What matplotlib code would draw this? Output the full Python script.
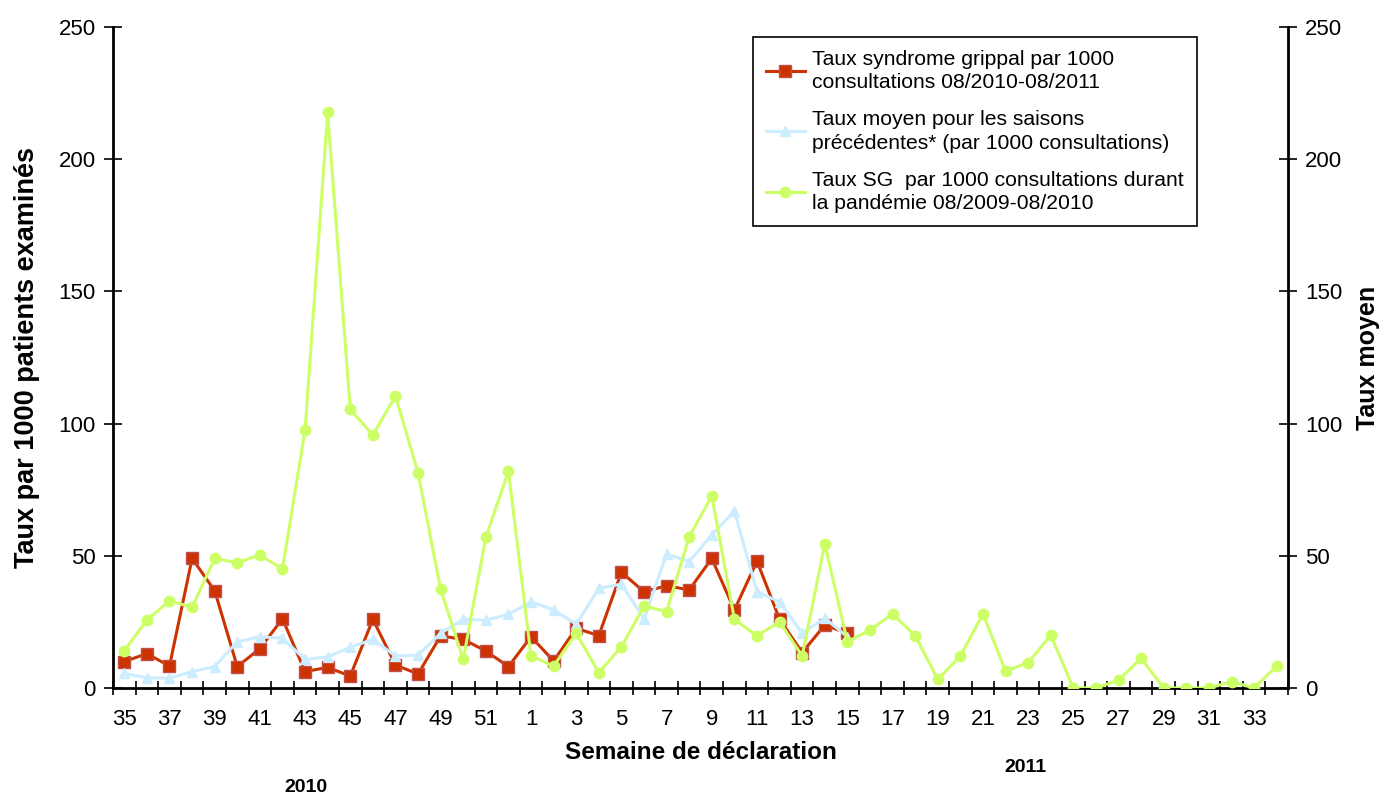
import matplotlib
matplotlib.use("Agg")
import matplotlib.pyplot as plt
from matplotlib.ticker import FixedLocator, NullFormatter

plt.rcParams['font.family'] = ['Liberation Sans', 'DejaVu Sans']

weeks = [35, 36, 37, 38, 39, 40, 41, 42, 43, 44, 45, 46, 47, 48, 49, 50, 51, 52,
         1, 2, 3, 4, 5, 6, 7, 8, 9, 10, 11, 12, 13, 14, 15, 16, 17, 18, 19, 20,
         21, 22, 23, 24, 25, 26, 27, 28, 29, 30, 31, 32, 33, 34]

taux_2010_2011 = [10, 13, 8.3, 49, 36.8, 8.1, 14.9, 26.2, 6.2, 7.8, 4.5, 26, 8.7, 5.3,
                  19.7, 18.4, 14, 8.1, 19.4, 10.2, 22.6, 19.8, 43.8, 36.4, 38.7, 37.1,
                  49, 29.5, 48, 26, 13.4, 23.8, 20.7]

taux_moyen = [5.5, 3.9, 3.7, 6.2, 8.1, 17.5, 19.4, 18.8, 10.8, 11.8, 15.4, 18.4, 12.1,
              12.4, 20.7, 26, 25.6, 27.9, 32.6, 29.5, 24.1, 37.7, 39.3, 26.1, 50.7,
              47.8, 57.9, 66.9, 36.4, 32.6, 20.7, 26.4, 19.4]

taux_pandemie = [14.1, 25.7, 33, 30.5, 49, 47.4, 50.3, 45, 97.6, 217.7, 105.4, 95.7,
                 110.4, 81.4, 37.3, 10.8, 57, 82, 12.1, 8.3, 20.7, 5.8, 15.6, 31, 28.9,
                 57.2, 72.6, 26, 19.7, 25.1, 12.1, 54.5, 17.5, 21.9, 28, 19.8, 3.3,
                 12.1, 28, 6.4, 9.6, 20, 0, 0, 3, 11.2, 0, 0, 0, 2.4, 0, 8.3]

labels = [
    "Taux syndrome grippal par 1000\nconsultations 08/2010-08/2011",
    "Taux moyen pour les saisons\nprécédentes* (par 1000 consultations)",
    "Taux SG  par 1000 consultations durant\nla pandémie 08/2009-08/2010",
]

fig = plt.figure(figsize=(13.82, 7.96), dpi=100)
ax = fig.add_axes([113/1382, 1-688/796, (1288-113)/1382, (688-27)/796])

x_all = list(range(len(weeks)))
ax.plot(x_all[:len(taux_2010_2011)], taux_2010_2011, color='#CC3300', lw=2.2,
        marker='s', ms=9, mfc='#CC3300', mec='#C0504D', mew=1, label=labels[0], zorder=3)
ax.plot(x_all[:len(taux_moyen)], taux_moyen, color='#CCECFF', lw=2.2,
        marker='^', ms=7.5, mfc='#CCECFF', mec='#CCECFF', label=labels[1], zorder=4)
ax.plot(x_all, taux_pandemie, color='#CCFF66', lw=2.2,
        marker='o', ms=7.5, mfc='#CCFF66', mec='#CCFF66', label=labels[2], zorder=5)

ax.set_xlim(-0.5, len(weeks) - 0.5)
ax.set_ylim(0, 250)
ax.set_yticks([0, 50, 100, 150, 200, 250])

ax.xaxis.set_major_locator(FixedLocator(x_all[::2]))
ax.set_xticklabels([str(w) for w in weeks[::2]])
ax.xaxis.set_minor_locator(FixedLocator([i - 0.5 for i in range(len(weeks) + 1)]))
ax.xaxis.set_minor_formatter(NullFormatter())
ax.tick_params(axis='x', which='major', length=0, pad=15, labelsize=16)
ax.tick_params(axis='x', which='minor', direction='inout', length=10, width=1.2)
ax.tick_params(axis='y', direction='inout', length=13, width=1.2, labelsize=16, pad=6)

ax.spines['top'].set_visible(False)
ax.spines['right'].set_visible(False)
ax.spines['left'].set_linewidth(2)
ax.spines['bottom'].set_linewidth(2)

ax2 = ax.twinx()
ax2.set_ylim(0, 250)
ax2.set_yticks([0, 50, 100, 150, 200, 250])
ax2.tick_params(axis='y', direction='inout', length=13, width=1.2, labelsize=16, pad=6)
ax2.spines['top'].set_visible(False)
ax2.spines['left'].set_visible(False)
ax2.spines['bottom'].set_visible(False)
ax2.spines['right'].set_linewidth(2)
ax2.set_ylabel("Taux moyen", fontsize=18, fontweight='bold', labelpad=10)

ax.set_xlabel("Semaine de déclaration", fontsize=17.5, fontweight='bold', labelpad=8)
ax.set_ylabel("Taux par 1000 patients examinés", fontsize=19.5, fontweight='bold', labelpad=13)

leg = ax.legend(loc='upper left', bbox_to_anchor=((753-113)/1175, (688-37)/661),
                borderaxespad=0, fontsize=15.2, frameon=True, fancybox=False,
                edgecolor='black', framealpha=1, labelspacing=0.85, handlelength=1.85,
                borderpad=0.6, handletextpad=0.35)
for t in leg.get_texts():
    t.set_linespacing(1.3)
leg.get_frame().set_linewidth(1.2)
leg.set_zorder(10)

fig.text(306/1382, 1-787/796, "2010", fontsize=14, fontweight='bold', ha='center', va='center')
fig.text(1025/1382, 1-768/796, "2011", fontsize=14, fontweight='bold', ha='center', va='center')

fig.savefig("out.png", dpi=100)
